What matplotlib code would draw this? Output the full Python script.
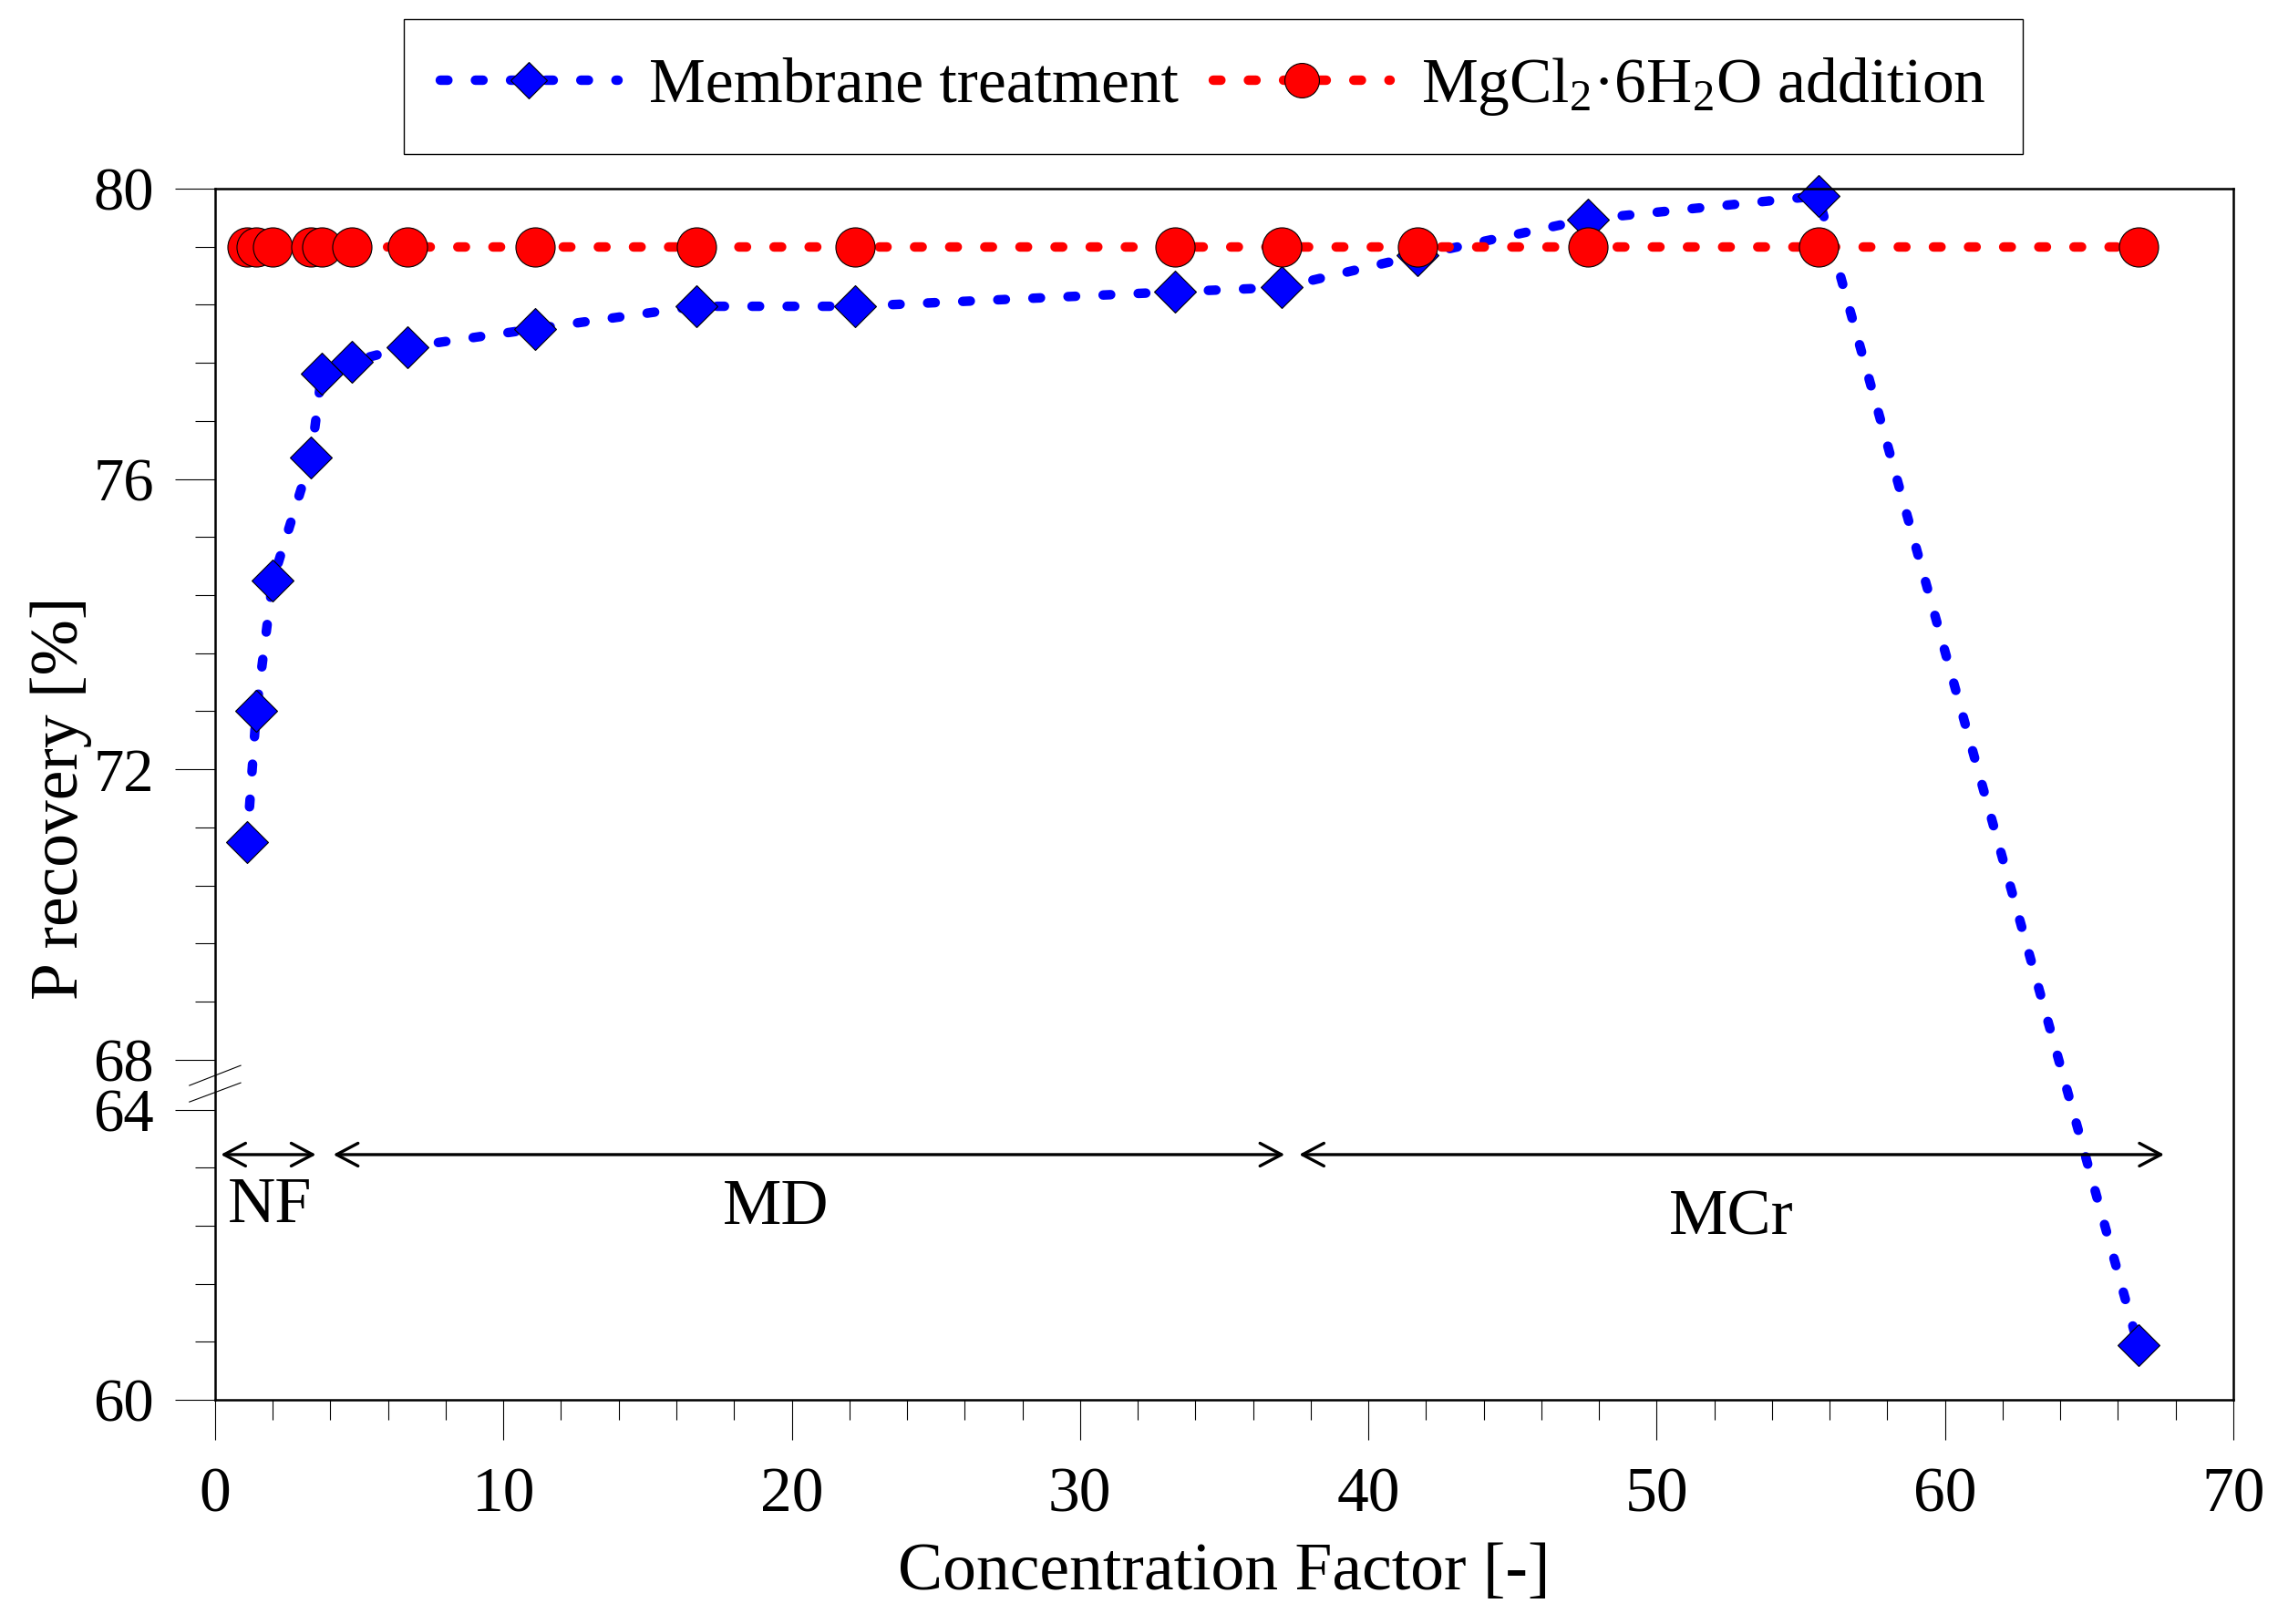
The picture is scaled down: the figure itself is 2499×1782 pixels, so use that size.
import numpy as np
import matplotlib
matplotlib.use('Agg')
import matplotlib.pyplot as plt
from matplotlib.ticker import FixedLocator, MultipleLocator

# Data
cf = [1.11, 1.43, 2.0, 3.33, 3.7, 4.76, 6.67, 11.1, 16.7, 22.2, 33.3, 37.0, 41.7, 47.6, 55.6, 66.7]
membrane = [71.0, 72.8, 74.6, 76.3, 77.45, 77.62, 77.82, 78.07, 78.38, 78.38, 78.58, 78.64, 79.08, 79.58, 79.9, 60.75]
mgcl2 = [79.2, 79.2, 79.2, 79.2, 79.2, 79.2, 79.2, 79.2, 79.2, 79.2, 79.2, 79.2, 79.2, 79.2, 79.2, 79.2]

stages = ['NF', 'MD', 'MCr']
stage_start = [0.2, 4.1, 37.6]
stage_end = [3.5, 37.1, 67.6]
stage_label_x = [1.9, 19.45, 52.6]
stage_label_y = [62.67, 62.64, 62.5]
arrow_y = 63.38

y_major = [60, 64, 68, 72, 76, 80]
y_minor = [60.8, 61.6, 62.4, 63.2, 68.8, 69.6, 70.4, 71.2, 72.8, 73.6, 74.4, 75.2,
           76.8, 77.6, 78.4, 79.2]

plt.rcParams['font.family'] = 'Liberation Serif'
plt.rcParams['mathtext.fontset'] = 'custom'
plt.rcParams['mathtext.rm'] = 'Liberation Serif'
plt.rcParams['mathtext.it'] = 'Liberation Serif:italic'
plt.rcParams['mathtext.default'] = 'rm'

# broken y axis: squeeze 64..68 into a small gap
GAP = 0.69


def fwd(y):
    y = np.asarray(y, dtype=float)
    return np.where(y >= 68, y,
                    np.where(y <= 64, y + (4 - GAP), 64 + (4 - GAP) + (y - 64) * GAP / 4))


def inv(u):
    u = np.asarray(u, dtype=float)
    lo = 64 + (4 - GAP)
    return np.where(u >= 68, u,
                    np.where(u <= lo, u - (4 - GAP), 64 + (u - lo) * 4 / GAP))


fig = plt.figure(figsize=(24.99, 17.82), dpi=100)
ax = fig.add_axes([0.0944, 0.1380, 0.8860, 0.7458])
ax.set_yscale('function', functions=(fwd, inv))

ax.plot(cf, membrane, color='#0000ff', lw=7.5, dashes=(0.8, 2.9), dash_capstyle='round',
        marker='D', ms=23, mfc='#0000ff', mec='black', mew=0.8, clip_on=False,
        label='Membrane treatment')
ax.plot(cf, mgcl2, color='#ff0000', lw=7.5, dashes=(0.8, 2.9), dash_capstyle='round',
        marker='o', ms=31, mfc='#ff0000', mec='black', mew=0.8, clip_on=False,
        label='MgCl$_{2}$·6H$_{2}$O addition')

ax.set_xlim(0, 70)
ax.set_ylim(60, 80)
ax.xaxis.set_major_locator(MultipleLocator(10))
ax.xaxis.set_minor_locator(MultipleLocator(2))
ax.yaxis.set_major_locator(FixedLocator(y_major))
ax.yaxis.set_minor_locator(FixedLocator(y_minor))
ax.yaxis.set_major_formatter(plt.FuncFormatter(lambda v, p: '%d' % v))
ax.yaxis.set_minor_formatter(plt.NullFormatter())

ax.tick_params(which='major', length=32, width=0.8, direction='out', top=False, right=False)
ax.tick_params(which='minor', length=16, width=0.8, direction='out', top=False, right=False)
ax.tick_params(axis='x', labelsize=50, pad=21)
ax.tick_params(axis='y', labelsize=48, pad=16)
for s in ax.spines.values():
    s.set_linewidth(1.8)

# break marks on the y axis
ax.plot([-0.0127, 0.0127], [0.2596, 0.2761], transform=ax.transAxes, color='k', lw=0.8, clip_on=False)
ax.plot([-0.0127, 0.0127], [0.2460, 0.2618], transform=ax.transAxes, color='k', lw=0.8, clip_on=False)

# process stages
for name, x0, x1, lx, ly in zip(stages, stage_start, stage_end, stage_label_x, stage_label_y):
    ax.annotate('', xy=(x1, arrow_y), xytext=(x0, arrow_y),
                arrowprops=dict(arrowstyle='<->,head_length=0.85,head_width=0.45',
                                lw=2.4, color='black', shrinkA=0, shrinkB=0, mutation_scale=20))
    ax.text(lx, ly, name, fontsize=52, ha='center', va='center')

ax.set_xlabel('Concentration Factor [-]', fontsize=53)
ax.set_ylabel('P recovery [%]', fontsize=53)
ax.xaxis.set_label_coords(0.5, -0.118)
ax.yaxis.set_label_coords(-0.061, 0.497)

leg = ax.legend(loc='center', bbox_to_anchor=(0.5326, 0.9467), bbox_transform=fig.transFigure,
                ncol=2, fontsize=50, frameon=True, fancybox=False, edgecolor='black',
                framealpha=1, borderpad=0.58, handlelength=2.8, handletextpad=0.49,
                columnspacing=0.55, markerscale=0.88, numpoints=1)
leg.get_frame().set_linewidth(1.0)

fig.savefig('out.png', dpi=100)
